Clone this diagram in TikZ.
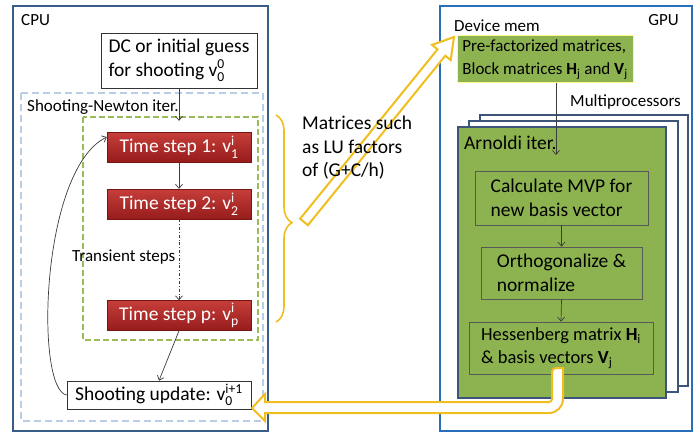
\documentclass[tikz,border=0pt]{standalone}
\usepackage{fontspec}
\usepackage{amsmath}
\setmainfont{Carlito}
\usetikzlibrary{arrows.meta,decorations.pathreplacing,calc}
\definecolor{cpublue}{RGB}{56,93,138}
\definecolor{gpublue}{RGB}{40,110,185}
\definecolor{snblue}{RGB}{185,205,229}
\definecolor{ygreen}{RGB}{155,187,89}
\definecolor{boxgreen}{RGB}{141,179,80}
\definecolor{mpblue}{RGB}{60,85,120}
\definecolor{gold}{RGB}{240,190,30}
\definecolor{redtop}{RGB}{198,62,58}
\definecolor{redbot}{RGB}{150,28,28}
\definecolor{conn}{RGB}{60,60,60}
\newcommand\vv[2]{v$_{\text{#1}}^{\text{#2}}$}
\tikzset{
  every node/.style={font=\fontsize{17}{23}\selectfont, inner sep=0pt},
  big/.style={font=\fontsize{19.5}{23.5}\selectfont},
  lbl/.style={anchor=west},
  whitebox/.style={draw=black!80, line width=0.7pt, fill=white, align=left, big},
  redbox/.style={top color=redtop, bottom color=redbot, draw=redbot!80!black, line width=0.4pt,
     text=white, minimum width=144pt, minimum height=30pt, big},
  greenbox/.style={draw=black!65, line width=0.7pt, fill=boxgreen, align=left, big},
  conarrow/.style={draw=conn, line width=0.7pt, -{Straight Barb[length=4pt,width=7pt]}},
  hollow/.style={draw=gold, line width=2pt, fill=white, line join=miter},
}
\begin{document}
\begin{tikzpicture}[x=1pt,y=-1pt]
\useasboundingbox (0,0) rectangle (698,433);
% outer boxes
\draw[cpublue, line width=2pt] (13,6) rectangle (268,431);
\draw[gpublue, line width=2pt] (440,6) rectangle (692,431);
\node[lbl] (cpu) at (21,20) {CPU};
\node[anchor=east] (gpu) at (679,20) {GPU};
% CPU side
\draw[snblue, line width=1.5pt, dash pattern=on 7pt off 4pt] (21,93) rectangle (263,421);
\node[lbl] (snlabel) at (27,107) {Shooting-Newton iter.};
\draw[ygreen, line width=2pt, dash pattern=on 6pt off 3pt] (83,117) rectangle (258,340);
\node[whitebox, minimum width=156pt, minimum height=55pt] (dc) at (179,60.5)
  {DC or initial guess\\for shooting \vv{0}{0}};
\node[redbox] (ts1) at (179,147) {Time step 1: \vv{1}{i}};
\node[redbox] (ts2) at (179,204) {Time step 2: \vv{2}{i}};
\node[redbox] (tsp) at (179,315.5) {Time step p: \vv{p}{i}};
\node[lbl] (trans) at (72,257) {Transient steps};
\node[whitebox, minimum width=184pt, minimum height=28pt] (shoot) at (159,395)
  {Shooting update: \vv{0}{i+1}};
\draw[conarrow, shorten >=11pt] (dc.south) -- (ts1.north);
\draw[conarrow] (ts1.south) -- (ts2.north);
\draw[conarrow, dash dot] (ts2.south) -- (tsp.north);
\draw[conarrow] (tsp.south) -- (shoot.north);
\draw[conarrow] (shoot.west) .. controls (35,390) and (40,170) .. ([yshift=10pt]ts1.west);
% brace
\draw[gold, line width=1.6pt, decorate, decoration={brace, amplitude=16pt, aspect=0.52}]
  (276,115) -- (276,322);
% diagonal hollow arrow
\draw[hollow] (307.9,225.2) -- (445.3,55.7) -- (450.7,60.1) -- (454,37) -- (432.1,44.9)
  -- (437.5,49.4) -- (300.1,218.8) -- cycle;
\node[align=left, anchor=west, big] (mat) at (302,148) {Matrices such\\as LU factors\\of (G+C/h)};
% GPU side
\node[lbl] (dmlabel) at (454,26) {Device mem};
\node[draw=yellow!45!white, line width=1pt, fill=boxgreen, align=left,
  minimum width=176pt, minimum height=47pt] (dm) at (545,59.5)
  {Pre-factorized matrices,\\Block matrices \textbf{H}$_{\text{j}}$ and \textbf{V}$_{\text{j}}$};
\node[anchor=east] (mp) at (681,102) {Multiprocessors};
\draw[mpblue, line width=1.8pt, fill=white] (480,115) rectangle (688,386);
\draw[mpblue, line width=1.8pt, fill=white] (469,121) rectangle (678,392);
\draw[mpblue, line width=1.8pt, fill=boxgreen] (458,127) rectangle (666,398);
\node[lbl, big] (arn) at (464,143) {Arnoldi iter.};
\node[greenbox, minimum width=173pt, minimum height=54pt] (mvp) at (561.5,198)
  {Calculate MVP for\\new basis vector};
\node[greenbox, minimum width=161pt, minimum height=52pt] (orth) at (561.5,273)
  {Orthogonalize \&\\normalize};
\node[greenbox, minimum width=184pt, minimum height=52pt, font=\fontsize{18.5}{23.5}\selectfont] (hess) at (561,348)
  {Hessenberg matrix \textbf{H}$_{\text{i}}$\\\& basis vectors \textbf{V}$_{\text{j}}$};
\coordinate (arnin) at (556,155);
\draw[conarrow] ([xshift=11pt]dm.south) -- (arnin);
\draw[conarrow] (mvp.south) -- (orth.north);
\draw[conarrow] (orth.south) -- (hess.north);
% bent hollow arrow back to CPU
\draw[hollow] (552,368) [rounded corners=3pt] -- (552,402) [sharp corners] -- (265,402) -- (265,394)
  -- (252,408) -- (265,421) -- (265,413) [rounded corners=14pt] -- (563,413) [sharp corners]
  -- (563,368) [rounded corners=4pt] -- cycle;
\end{tikzpicture}
\end{document}
